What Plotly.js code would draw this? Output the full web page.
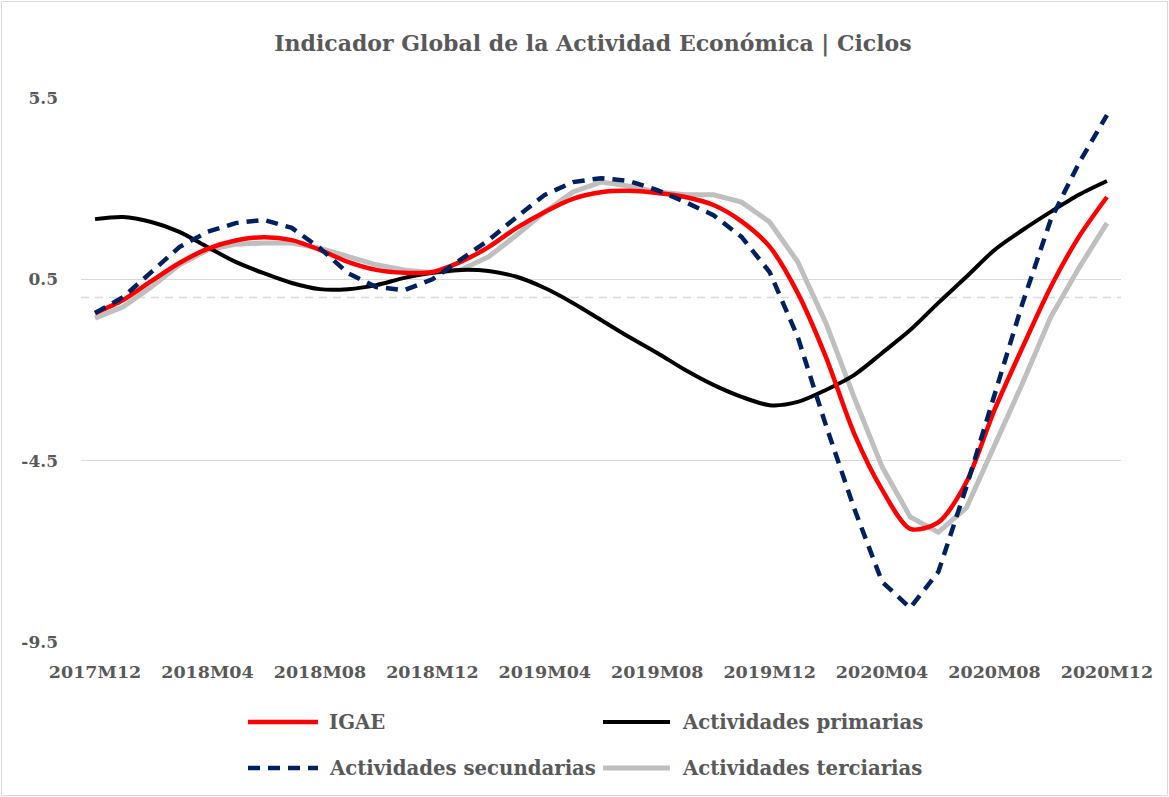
<!DOCTYPE html>
<html>
<head>
<meta charset="utf-8">
<script src="https://cdn.plot.ly/plotly-3.0.1.min.js"></script>
<style>
html,body{margin:0;padding:0;background:#fff;}
#chart{width:1169px;height:797px;}
</style>
</head>
<body>
<div id="chart"></div>
<script>
const months = [
 "2017M12","2018M01","2018M02","2018M03","2018M04","2018M05","2018M06","2018M07","2018M08","2018M09","2018M10","2018M11",
 "2018M12","2019M01","2019M02","2019M03","2019M04","2019M05","2019M06","2019M07","2019M08","2019M09","2019M10","2019M11",
 "2019M12","2020M01","2020M02","2020M03","2020M04","2020M05","2020M06","2020M07","2020M08","2020M09","2020M10","2020M11","2020M12"
];
const tickLabels = ["2017M12","2018M04","2018M08","2018M12","2019M04","2019M08","2019M12","2020M04","2020M08","2020M12"];
const seriesNames = ["IGAE","Actividades primarias","Actividades secundarias","Actividades terciarias"];

const igae = [-0.43,-0.07,0.45,0.95,1.34,1.57,1.66,1.58,1.31,0.98,0.76,0.68,
 0.70,0.98,1.39,1.92,2.36,2.72,2.90,2.94,2.88,2.77,2.55,2.10,
 1.40,0.12,-1.64,-3.74,-5.30,-6.38,-6.20,-5.09,-3.10,-1.37,0.29,1.67,2.77];
const primarias = [2.16,2.22,2.08,1.81,1.39,0.98,0.67,0.40,0.23,0.23,0.34,0.54,
 0.68,0.76,0.73,0.57,0.26,-0.15,-0.62,-1.09,-1.53,-2.00,-2.41,-2.74,
 -2.97,-2.88,-2.55,-2.14,-1.53,-0.90,-0.15,0.57,1.31,1.86,2.36,2.83,3.21];
const secundarias = [-0.43,0.01,0.70,1.39,1.81,2.05,2.14,1.92,1.36,0.67,0.29,0.20,
 0.50,1.03,1.58,2.22,2.83,3.18,3.29,3.21,2.96,2.63,2.27,1.67,
 0.70,-1.09,-3.52,-5.80,-7.84,-8.56,-7.57,-5.22,-2.69,-0.15,2.14,3.70,5.03];
const terciarias = [-0.57,-0.26,0.29,0.90,1.31,1.47,1.50,1.50,1.36,1.12,0.90,0.76,
 0.68,0.76,1.12,1.72,2.36,2.91,3.18,3.07,2.91,2.83,2.83,2.63,
 2.08,0.98,-0.70,-2.74,-4.67,-6.05,-6.47,-5.80,-4.12,-2.36,-0.54,0.81,2.05];
const yTicks = [5.5,0.5,-4.5,-9.5];

const FONT = "'DejaVu Serif', 'Liberation Serif', serif";
const GRAY = "#595959";

const styles = [
 {color:"#FF0000", width:4.5, dash:"solid", shape:"spline"},
 {color:"#000000", width:4, dash:"solid", shape:"spline"},
 {color:"#002060", width:4.5, dash:"12px,8px", shape:"linear"},
 {color:"#BFBFBF", width:5, dash:"solid", shape:"linear"}
];
const data = [igae, primarias, secundarias, terciarias];
const order = [3,1,0,2];
const traces = order.map(i => ({
  x: months, y: data[i], type:"scatter", mode:"lines", name: seriesNames[i],
  line:{color:styles[i].color, width:styles[i].width, dash:styles[i].dash, shape:styles[i].shape, smoothing:0.8},
  showlegend:false, hoverinfo:"x+y+name"
}));

const L = 81, R = 1121, T = 98, B = 642;
const px = v => (v - L)/(R - L);
const py = v => (B - v)/(B - T);
const legendPos = [
 {x0:248, x1:318, tx:327, y:722},
 {x0:603, x1:670, tx:680, y:722},
 {x0:248, x1:318, tx:327, y:768},
 {x0:603, x1:670, tx:680, y:768}
];
const shapes = [
 {type:"line", xref:"paper", x0:0, x1:1, yref:"y", y0:0, y1:0, line:{color:"#D9D9D9", width:1.5, dash:"8px,6px"}, layer:"below"},
 {type:"rect", xref:"paper", yref:"paper", x0:px(1.5), x1:px(1167.5), y0:py(795.5), y1:py(1.5), line:{color:"#D9D9D9", width:1}, fillcolor:"rgba(0,0,0,0)"}
];
const annotations = [];
legendPos.forEach((p,i) => {
  shapes.push({type:"line", xref:"paper", yref:"paper", x0:px(p.x0), x1:px(p.x1), y0:py(p.y), y1:py(p.y),
    line:{color:styles[i].color, width:styles[i].width, dash:styles[i].dash}});
  annotations.push({xref:"paper", yref:"paper", x:px(p.tx), y:py(p.y), xanchor:"left", yanchor:"middle",
    text:"<b>"+seriesNames[i]+"</b>", showarrow:false, font:{family:FONT, size:19.7, color:GRAY}});
});

const layout = {
  width:1169, height:797,
  margin:{l:L, r:1169-R, t:T, b:797-B, pad:0},
  paper_bgcolor:"#fff", plot_bgcolor:"#fff",
  title:{text:"<b>Indicador Global de la Actividad Económica | Ciclos</b>", font:{family:FONT, size:22, color:GRAY},
    xref:"paper", x:px(593), xanchor:"center", yref:"container", y:1-43/797, yanchor:"middle"},
  xaxis:{type:"category", range:[-0.5,36.5], tickmode:"array", tickvals:tickLabels, ticktext:tickLabels.map(t=>"<b>"+t+"</b>"),
    showgrid:false, zeroline:false, showline:false, ticks:"", ticklabelstandoff:17, tickangle:0,
    tickfont:{family:FONT, size:17.5, color:GRAY}},
  yaxis:{range:[-9.5,5.5], tickmode:"array", tickvals:yTicks, ticktext:yTicks.map(v=>"<b>"+v.toFixed(1)+"</b>"),
    showgrid:true, gridcolor:"#D9D9D9", gridwidth:1.5, zeroline:false, showline:false, ticks:"", ticklabelstandoff:22,
    tickfont:{family:FONT, size:17, color:GRAY}},
  shapes:shapes, annotations:annotations, showlegend:false
};
Plotly.newPlot("chart", traces, layout, {displayModeBar:false, staticPlot:true});
</script>
</body>
</html>
